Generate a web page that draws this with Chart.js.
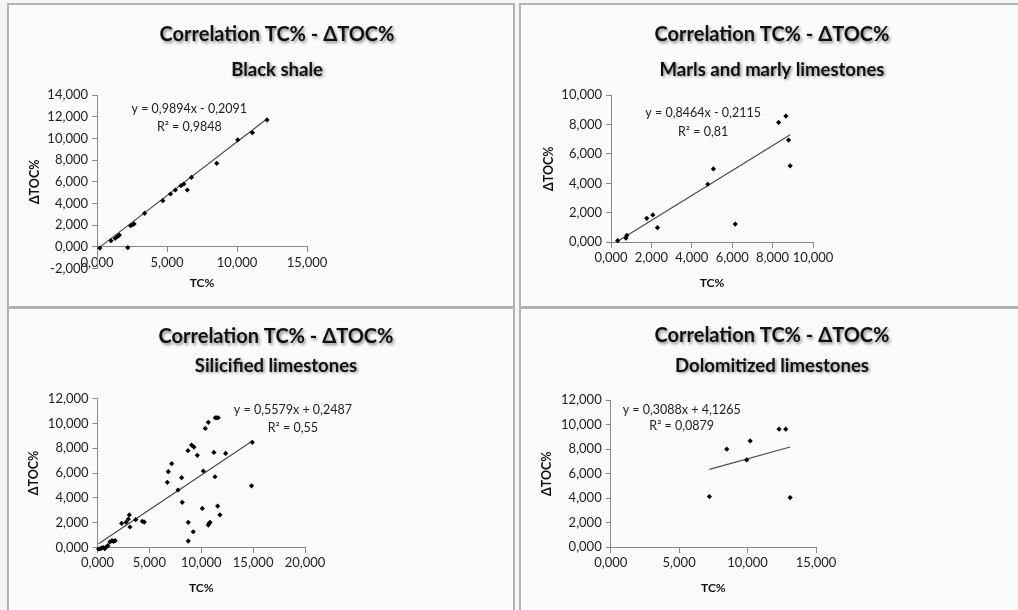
<!DOCTYPE html>
<html>
<head>
<meta charset="utf-8">
<script src="https://cdn.jsdelivr.net/npm/chart.js@4.4.1/dist/chart.umd.min.js"></script>
<style>
  html, body { margin: 0; padding: 0; width: 1018px; height: 610px; overflow: hidden; background: #f6f6f6; }
  .panel { position: absolute; box-sizing: border-box; border: 2px solid #b3b3b3; background: #fbfbfb; }
  canvas { position: absolute; }
</style>
</head>
<body>
<div class="panel" style="left:7px;top:3px;width:508px;height:305px"></div>
<div class="panel" style="left:519px;top:3px;width:510px;height:305px"></div>
<div class="panel" style="left:7px;top:307px;width:508px;height:310px"></div>
<div class="panel" style="left:519px;top:307px;width:510px;height:310px"></div>

<canvas id="c1" width="503" height="300" style="left:10px;top:6px"></canvas>
<canvas id="c2" width="496" height="300" style="left:522px;top:6px"></canvas>
<canvas id="c3" width="503" height="300" style="left:10px;top:310px"></canvas>
<canvas id="c4" width="496" height="300" style="left:522px;top:310px"></canvas>

<script>
// ---- Measurements per lithology: TC% and ΔTOC% ----
const chartTitle = 'Correlation TC% - ΔTOC%';
const lithologies = ['Black shale', 'Marls and marly limestones', 'Silicified limestones', 'Dolomitized limestones'];

const blackShaleTC   = [0.2, 1.0, 1.3, 1.45, 1.6, 2.2, 2.4, 2.55, 2.65, 3.4, 4.7, 5.25, 5.6, 6.0, 6.2, 6.45, 6.75, 8.55, 10.05, 11.1, 12.15];
const blackShaleDTOC = [-0.1, 0.58, 0.8, 0.95, 1.1, -0.06, 1.96, 2.05, 2.12, 3.1, 4.27, 4.88, 5.25, 5.65, 5.8, 5.25, 6.42, 7.71, 9.86, 10.53, 11.7];

const marlsTC   = [0.33, 0.74, 0.78, 1.77, 2.07, 2.30, 4.79, 5.07, 6.15, 8.30, 8.66, 8.79, 8.87];
const marlsDTOC = [0.11, 0.29, 0.47, 1.63, 1.86, 0.99, 3.94, 4.98, 1.24, 8.14, 8.57, 6.94, 5.19];

const silicifiedTC = [0.1, 0.25, 0.4, 0.55, 0.7, 0.85, 1.0, 1.2, 1.4, 1.55, 1.7,
  2.33, 2.75, 2.97, 3.07, 3.13, 3.68, 4.32, 4.51,
  6.73, 6.82, 7.15, 7.76, 8.11, 8.17, 8.72, 8.75, 8.75, 9.07, 9.30, 9.23, 9.62, 10.1, 10.2,
  10.39, 10.68, 10.68, 10.77, 10.84, 11.22, 11.32, 11.35, 11.47, 11.63, 11.58, 11.8, 12.35, 14.85, 14.92];
const silicifiedDTOC = [-0.12, -0.1, -0.05, 0.0, -0.1, 0.05, 0.15, 0.45, 0.55, 0.5, 0.55,
  1.95, 2.03, 2.29, 2.62, 1.65, 2.24, 2.11, 2.05,
  5.25, 6.11, 6.75, 4.63, 5.62, 3.64, 7.80, 2.03, 0.52, 8.25, 8.09, 1.27, 7.42, 3.15, 6.16,
  9.59, 10.08, 1.81, 1.95, 2.03, 7.66, 5.70, 10.45, 10.45, 10.45, 3.34, 2.62, 7.58, 4.97, 8.47];

const dolomitizedTC   = [7.21, 8.48, 9.94, 10.19, 12.3, 12.79, 13.11];
const dolomitizedDTOC = [4.13, 7.99, 7.12, 8.67, 9.62, 9.62, 4.05];

// Linear regression results (y = slope·x + intercept) and R²
const trendSlopes     = [0.9894, 0.8464, 0.5579, 0.3088];
const trendIntercepts = [-0.2091, -0.2115, 0.2487, 4.1265];
const trendR2         = [0.9848, 0.81, 0.55, 0.0879];

// Axis ranges and tick steps
const xMaxima = [15, 10, 20, 15];
const xSteps  = [5, 2, 5, 5];
const yMinima = [-2, 0, 0, 0];
const yMaxima = [14, 10, 12, 12];
const ySteps  = [2, 2, 2, 2];

const FONT = 'Lato, "Open Sans", sans-serif';
const dec = v => String(v).replace('.', ',');
const tickFmt = v => (Math.round(v * 1000) / 1000).toFixed(3).replace('.', ',');

// Titles, subtitles and regression labels drawn on top of each chart
const panelText = {
  id: 'panelText',
  afterDraw(chart, args, o) {
    const ctx = chart.ctx;
    ctx.save();
    ctx.textAlign = 'center';
    ctx.textBaseline = 'middle';
    ctx.fillStyle = '#111';
    ctx.shadowColor = 'rgba(0,0,0,0.45)';
    ctx.shadowBlur = 3;
    ctx.shadowOffsetX = 1.5;
    ctx.shadowOffsetY = 1.5;
    ctx.font = 'bold 20px ' + FONT;
    ctx.fillText(o.title, o.cx, o.titleY);
    ctx.font = 'bold 18.5px ' + FONT;
    ctx.fillText(o.subtitle, o.cx, o.subY);
    ctx.restore();

    const xs = chart.scales.x, ys = chart.scales.y;
    ctx.save();
    ctx.textAlign = 'center';
    ctx.textBaseline = 'middle';
    ctx.fillStyle = '#222';
    ctx.font = '12.5px ' + FONT;
    const i = o.index;
    const b = trendIntercepts[i];
    const eq = 'y = ' + dec(trendSlopes[i]) + 'x ' + (b < 0 ? '- ' : '+ ') + dec(Math.abs(b));
    const r2 = 'R² = ' + dec(trendR2[i]);
    ctx.fillText(eq, xs.getPixelForValue(o.eqAt[0]), ys.getPixelForValue(o.eqAt[1]));
    ctx.fillText(r2, xs.getPixelForValue(o.r2At[0]), ys.getPixelForValue(o.r2At[1]));
    ctx.restore();
  }
};

function makePanel(id, i, tc, dtoc, lay) {
  const points = tc.map((x, k) => ({ x: x, y: dtoc[k] }));
  const x0 = Math.min(...tc), x1 = Math.max(...tc);
  const trend = [x0, x1].map(x => ({ x: x, y: trendSlopes[i] * x + trendIntercepts[i] }));
  const axisColor = '#8a8a8a';

  new Chart(document.getElementById(id), {
    type: 'scatter',
    data: {
      datasets: [
        { data: points, pointStyle: 'rectRot', pointRadius: 2.6, pointHoverRadius: 2.6,
          backgroundColor: '#000', borderColor: '#000', borderWidth: 0, clip: false, order: 1 },
        { data: trend, showLine: true, pointRadius: 0, borderColor: '#4a4a4a', borderWidth: 1.2,
          fill: false, clip: false, order: 2 }
      ]
    },
    options: {
      responsive: false,
      animation: false,
      events: [],
      layout: { padding: { left: 0, top: lay.top, right: lay.right, bottom: lay.bottom } },
      plugins: {
        legend: { display: false },
        tooltip: { enabled: false },
        panelText: { index: i, title: chartTitle, subtitle: lithologies[i], cx: lay.cx,
                     titleY: lay.titleY, subY: lay.subY, eqAt: lay.eqAt, r2At: lay.r2At }
      },
      scales: {
        x: {
          type: 'linear',
          position: { y: 0 },
          min: 0, max: xMaxima[i],
          ticks: { stepSize: xSteps[i], callback: tickFmt, padding: 3, color: '#222', autoSkip: false,
                   font: { family: FONT, size: 13 }, maxRotation: 0 },
          grid: { display: true, drawOnChartArea: false, drawTicks: true, tickLength: 5, color: axisColor },
          border: { display: true, color: axisColor, width: 1 },
          title: { display: true, text: 'TC%', color: '#111', padding: { top: 0, bottom: 0 },
                   font: { family: FONT, size: 12, weight: 'bold', lineHeight: 1.2 } },
          afterFit: s => { s.height = lay.xTitleGap + 7.2; }
        },
        y: {
          type: 'linear',
          position: 'left',
          min: yMinima[i], max: yMaxima[i],
          ticks: { stepSize: ySteps[i], callback: tickFmt, padding: 4, color: '#222', autoSkip: false,
                   font: { family: FONT, size: 13 } },
          grid: { display: true, drawOnChartArea: false, drawTicks: true, tickLength: 5, color: axisColor },
          border: { display: true, color: axisColor, width: 1 },
          title: { display: true, text: 'ΔTOC%', color: '#111', padding: { top: lay.yTitlePad, bottom: 0 },
                   font: { family: FONT, size: 12.5, weight: 'bold', lineHeight: 1.2 } },
          afterFit: s => { s.width = lay.left; }
        }
      }
    },
    plugins: [panelText]
  });
}

makePanel('c1', 0, blackShaleTC, blackShaleDTOC,
  { left: 87, top: 89, right: 206, bottom: 37.3, xTitleGap: 36.3, yTitlePad: 17,
    cx: 267, titleY: 29, subY: 64, eqAt: [6.59, 12.69], r2At: [6.59, 11.09] });
makePanel('c2', 1, marlsTC, marlsDTOC,
  { left: 89, top: 89, right: 205, bottom: 63.7, xTitleGap: 40.4, yTitlePad: 19.5,
    cx: 250, titleY: 29, subY: 64, eqAt: [4.56, 8.76], r2At: [4.56, 7.51] });
makePanel('c3', 2, silicifiedTC, silicifiedDTOC,
  { left: 87.5, top: 88.5, right: 208, bottom: 62.5, xTitleGap: 40.8, yTitlePad: 16.5,
    cx: 266, titleY: 27, subY: 56, eqAt: [18.83, 11.07], r2At: [18.83, 9.65] });
makePanel('c4', 3, dolomitizedTC, dolomitizedDTOC,
  { left: 88.7, top: 90, right: 202, bottom: 62.7, xTitleGap: 40.4, yTitlePad: 17.8,
    cx: 250, titleY: 26, subY: 56, eqAt: [5.19, 11.19], r2At: [5.19, 9.91] });
</script>
</body>
</html>
